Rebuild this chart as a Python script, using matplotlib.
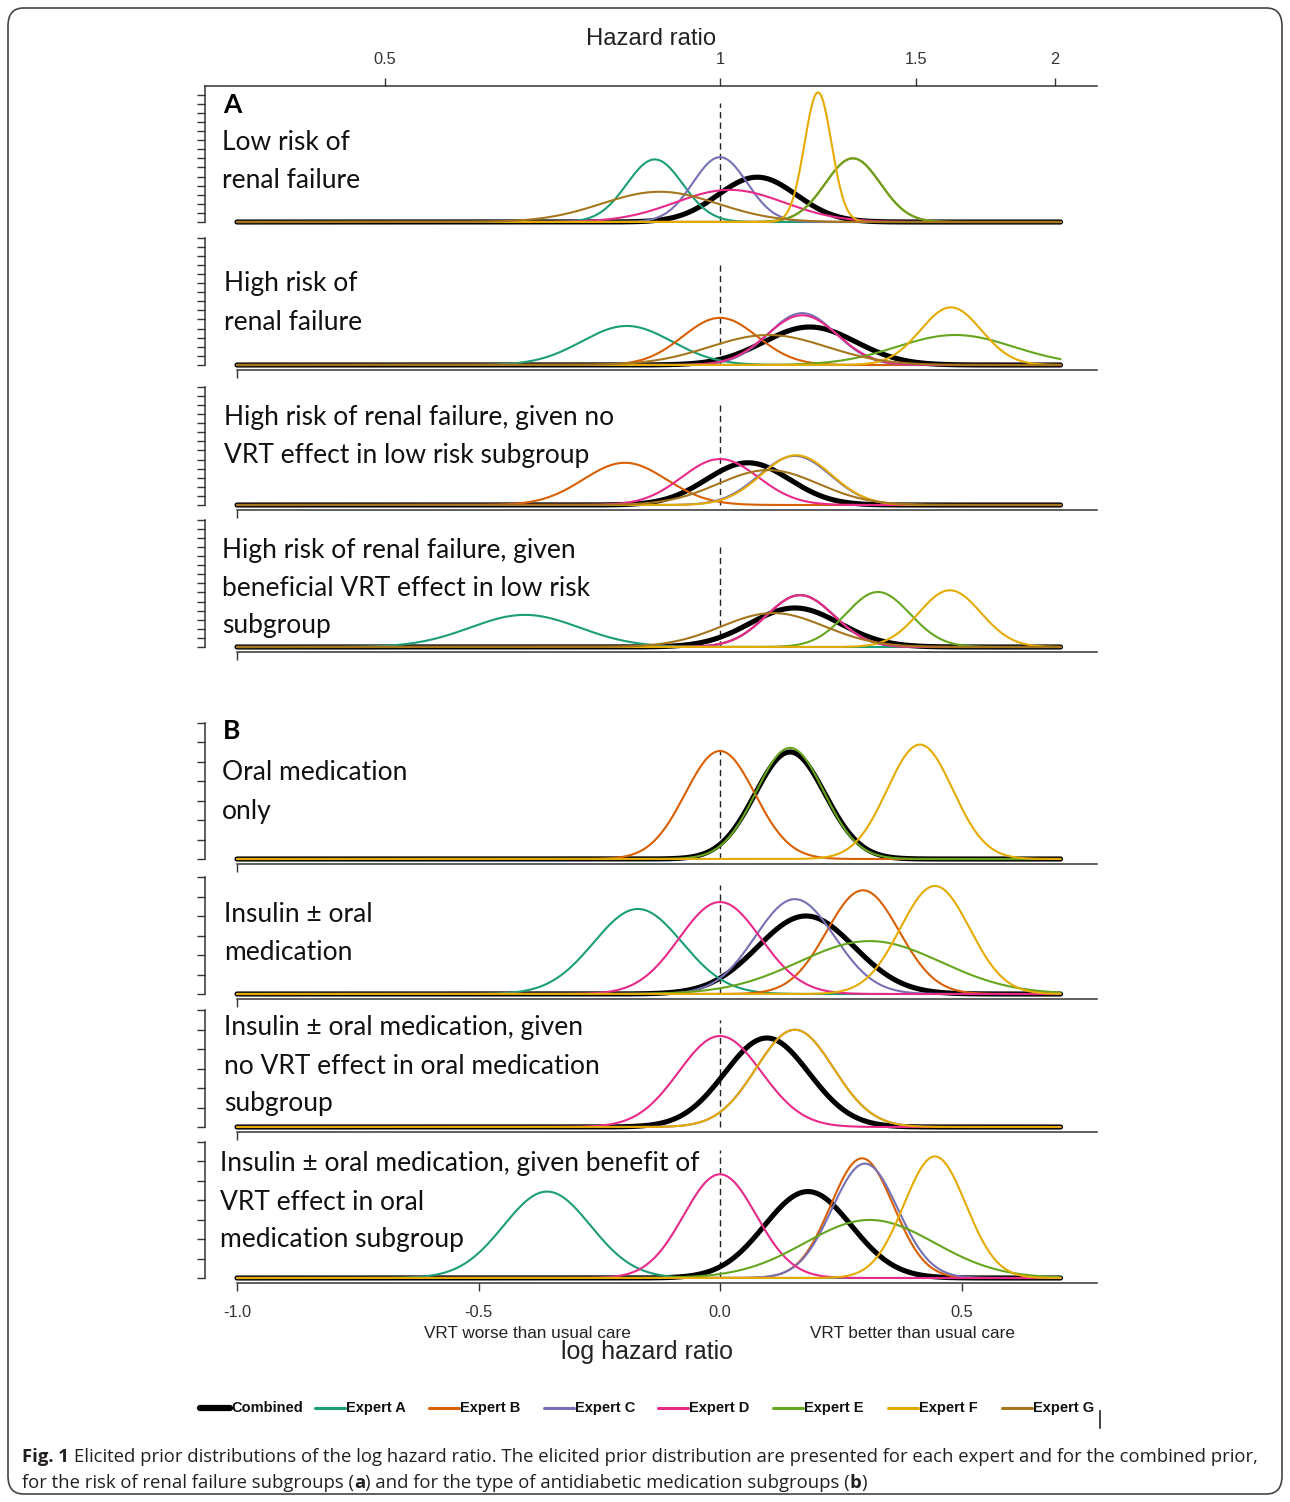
import numpy as np
import matplotlib
matplotlib.use("Agg")
import matplotlib.pyplot as plt
from matplotlib.patches import FancyBboxPatch
from matplotlib.lines import Line2D

W, H, DPI = 1290, 1502, 100

# ---------------------------------------------------------------- data
series_names = ["Combined", "Expert A", "Expert B", "Expert C",
                "Expert D", "Expert E", "Expert F", "Expert G"]
series_colors = ["#000000", "#1B9E77", "#D95F02", "#7570B3",
                 "#E7298A", "#66A61E", "#E6AB02", "#A6761D"]

panel_titles = [
    "Low risk of\nrenal failure",
    "High risk of\nrenal failure",
    "High risk of renal failure, given no\nVRT effect in low risk subgroup",
    "High risk of renal failure, given\nbeneficial VRT effect in low risk\nsubgroup",
    "Oral medication\nonly",
    "Insulin \u00b1 oral\nmedication",
    "Insulin \u00b1 oral medication, given\nno VRT effect in oral medication\nsubgroup",
    "Insulin \u00b1 oral medication, given benefit of\nVRT effect in oral\nmedication subgroup",
]

# Normal priors on the log hazard ratio: means and SDs per subgroup
# (order follows series_names; None = no prior for that series)
mean_low_risk = [0.077, -0.135, 0.275, 0.0, 0.02, 0.275, 0.203, -0.125]
sd_low_risk = [0.081, 0.058, 0.057, 0.056, 0.113, 0.057, 0.028, 0.120]

mean_high_risk = [0.186, -0.193, 0.0, 0.17, 0.17, 0.487, 0.478, 0.10]
sd_high_risk = [0.0955, 0.093, 0.077, 0.070, 0.073, 0.121, 0.063, 0.121]

mean_high_given_null = [0.058, None, -0.197, 0.155, 0.0, None, 0.158, 0.10]
sd_high_given_null = [0.086, None, 0.086, 0.074, 0.079, None, 0.073, 0.104]

mean_high_given_benefit = [0.155, -0.404, 0.166, 0.166, 0.166, 0.327, 0.476, 0.11]
sd_high_given_benefit = [0.093, 0.113, 0.070, 0.070, 0.070, 0.066, 0.064, 0.107]

mean_oral = [0.145, None, 0.0, None, None, 0.145, 0.414, None]
sd_oral = [0.0727, None, 0.072, None, None, 0.070, 0.068, None]

mean_insulin = [0.178, -0.17, 0.296, 0.155, 0.0, 0.31, 0.445, None]
sd_insulin = [0.0997, 0.0915, 0.075, 0.082, 0.0846, 0.147, 0.072, None]

mean_insulin_given_null = [0.097, None, None, 0.155, 0.0, None, 0.155, None]
sd_insulin_given_null = [0.0874, None, None, 0.080, 0.0855, None, 0.080, None]

mean_insulin_given_benefit = [0.182, -0.358, 0.294, 0.30, 0.0, 0.31, 0.445, None]
sd_insulin_given_benefit = [0.090, 0.090, 0.065, 0.068, 0.075, 0.134, 0.064, None]

panel_means = [mean_low_risk, mean_high_risk, mean_high_given_null,
               mean_high_given_benefit, mean_oral, mean_insulin,
               mean_insulin_given_null, mean_insulin_given_benefit]
panel_sds = [sd_low_risk, sd_high_risk, sd_high_given_null,
             sd_high_given_benefit, sd_oral, sd_insulin,
             sd_insulin_given_null, sd_insulin_given_benefit]

hr_ticks = [0.5, 1, 1.5, 2]
hr_tick_labels = ["0.5", "1", "1.5", "2"]
loghr_ticks = [-1.0, -0.5, 0.0, 0.5]
loghr_tick_labels = ["-1.0", "-0.5", "0.0", "0.5"]
x_from, x_to = -1.0, 0.705

# ---------------------------------------------------------------- layout
X0_PX, PX_PER_LOG = 720.0, 483.0
AX_LEFT_PX, AX_RIGHT_PX = 205.0, 1097.0
baseline_px = [222, 365, 505, 647, 859, 994, 1127, 1278]
n_yticks = [14, 14, 13, 14, 7, 6, 6, 7]
px_per_unit = [9.1] * 4 + [19.5] * 4
dash_top_px = [103, 262, 403, 543, 750, 885, 1020, 1150]
TOP_AXIS_PX = 86
AXIS_GAP_PX = 5

SPINE = "#333333"
label_font = ["Lato", "DejaVu Sans"]
arial = ["Liberation Sans", "DejaVu Sans"]

fig = plt.figure(figsize=(W / DPI, H / DPI), dpi=DPI)
fig.patch.set_facecolor("white")

# rounded frame around the whole figure
fig.patches.append(FancyBboxPatch((8 / W, 8 / H), (W - 16) / W, (H - 16) / H,
                                  boxstyle="round,pad=0,rounding_size=0.012",
                                  transform=fig.transFigure, fill=False,
                                  edgecolor="#444444", linewidth=1.2))

xlim = ((AX_LEFT_PX - X0_PX) / PX_PER_LOG, (AX_RIGHT_PX - X0_PX) / PX_PER_LOG)
xs = np.linspace(x_from, x_to, 800)

for i in range(8):
    base = baseline_px[i]
    pxu = px_per_unit[i]
    n = n_yticks[i]
    top_tick = base - n * pxu
    ax_top = TOP_AXIS_PX if i == 0 else top_tick - 2
    ax_bot = base + AXIS_GAP_PX
    ax = fig.add_axes([AX_LEFT_PX / W, 1 - ax_bot / H,
                       (AX_RIGHT_PX - AX_LEFT_PX) / W, (ax_bot - ax_top) / H])
    ax.set_xlim(*xlim)
    ax.set_ylim(-(ax_bot - base) / pxu, (base - ax_top) / pxu)
    ax.patch.set_alpha(0)

    # prior densities
    for k in range(len(series_names)):
        m, s = panel_means[i][k], panel_sds[i][k]
        if m is None:
            continue
        dens = np.exp(-0.5 * ((xs - m) / s) ** 2) / (s * np.sqrt(2 * np.pi))
        lw = 3.7 if k == 0 else 1.5
        ax.plot(xs, dens, color=series_colors[k], lw=lw,
                solid_capstyle="round", solid_joinstyle="round", zorder=2 + k)

    # reference line at log HR = 0
    ax.plot([0, 0], [0, (base - dash_top_px[i]) / pxu], color="#222222",
            lw=1.0, ls=(0, (4.5, 3)), zorder=1)

    # spines
    ax.spines["right"].set_visible(False)
    for side in ("left", "bottom", "top"):
        ax.spines[side].set_color(SPINE)
        ax.spines[side].set_linewidth(1.1)
    ax.spines["left"].set_bounds(0, ax.get_ylim()[1] if i == 0 else n)
    ax.set_yticks(np.arange(0, n + 1))
    ax.tick_params(axis="y", direction="out", length=5.5, width=1.0,
                   color=SPINE, labelleft=False)

    if i == 0:
        ax.spines["bottom"].set_visible(False)
        ax.xaxis.set_ticks_position("top")
        ax.xaxis.set_label_position("top")
        ax.set_xticks(np.log(hr_ticks))
        ax.set_xticklabels(hr_tick_labels, family=arial, fontsize=11.8,
                           color="#333333")
        ax.tick_params(axis="x", direction="out", length=6, width=1.0,
                       color=SPINE, pad=8)
        ax.set_xlabel("Hazard ratio", family=arial, fontsize=17.2,
                      color="#222222", labelpad=5)
    else:
        ax.spines["top"].set_visible(False)
        ax.spines["bottom"].set_bounds(-1.0, xlim[1])
        if i == 7:
            ax.set_xticks(loghr_ticks)
            ax.set_xticklabels(loghr_tick_labels, family=arial,
                               fontsize=11.8, color="#333333")
            ax.tick_params(axis="x", direction="out", length=6, width=1.0,
                           color=SPINE, pad=10)
        else:
            ax.set_xticks([-1.0])
            ax.tick_params(axis="x", direction="out", length=6, width=1.0,
                           color=SPINE, labelbottom=False)

# ---------------------------------------------------------------- text
def ftext(x_px, y_px, s, **kw):
    return fig.text(x_px / W, 1 - y_px / H, s, **kw)

ftext(223, 105, "A", family=label_font, fontsize=19, weight="bold",
      va="center", ha="left")
ftext(223, 731, "B", family=label_font, fontsize=19, weight="bold",
      va="center", ha="left")

title_pos = [(222, 143), (224, 284), (224, 418), (222, 550),
             (222, 773), (224, 915), (224, 1028), (220, 1164)]
for (tx, ty), t in zip(title_pos, panel_titles):
    for j, line in enumerate(t.split("\n")):
        ftext(tx, ty + 38 * j, line, family=label_font, fontsize=19,
              va="center", ha="left", color="#111111")

ftext(527, 1334, "VRT worse than usual care", family=arial, fontsize=12.3,
      va="center", ha="center", color="#222222")
ftext(913, 1334, "VRT better than usual care", family=arial, fontsize=12.3,
      va="center", ha="center", color="#222222")
ftext(647, 1352, "log hazard ratio", family=arial, fontsize=18,
      va="center", ha="center", color="#222222")

# legend
narrow = ["Liberation Sans Narrow", "Liberation Sans"]
for k, name in enumerate(series_names):
    x0 = 200 + k * 114.6
    lw = 4.5 if k == 0 else 2.2
    fig.add_artist(Line2D([x0 / W, (x0 + 30) / W], [1 - 1408 / H] * 2,
                          color=series_colors[k], lw=lw,
                          solid_capstyle="round", transform=fig.transFigure))
    ftext(x0 + 31, 1408, name, family=narrow, fontsize=10.5, weight="bold",
          va="center", ha="left", color="#111111")
fig.add_artist(Line2D([1100 / W] * 2, [1 - 1411 / H, 1 - 1428 / H],
                      color="#222222", lw=1.2, transform=fig.transFigure))

# caption with bold runs
cap_font = ["Open Sans", "DejaVu Sans"]
renderer = fig.canvas.get_renderer()


def runs(x_px, y_px, parts, size=13.3):
    x = x_px
    for s, weight in parts:
        if s == " ":
            x += size * DPI / 72 * 0.26
            continue
        t = ftext(x, y_px, s, family=cap_font, fontsize=size, weight=weight,
                  va="center", ha="left", color="#231F20")
        x += t.get_window_extent(renderer=renderer).width


runs(22, 1457, [("Fig. 1", "bold"), (" ", None),
                ("Elicited prior distributions of the log hazard ratio. The "
                 "elicited prior distribution are presented for each expert "
                 "and for the combined prior,", "normal")])
runs(22, 1483, [("for the risk of renal failure subgroups (", "normal"),
                ("a", "bold"),
                (") and for the type of antidiabetic medication subgroups (",
                 "normal"),
                ("b", "bold"), (")", "normal")])

fig.savefig("out.png", dpi=DPI, facecolor="white")
